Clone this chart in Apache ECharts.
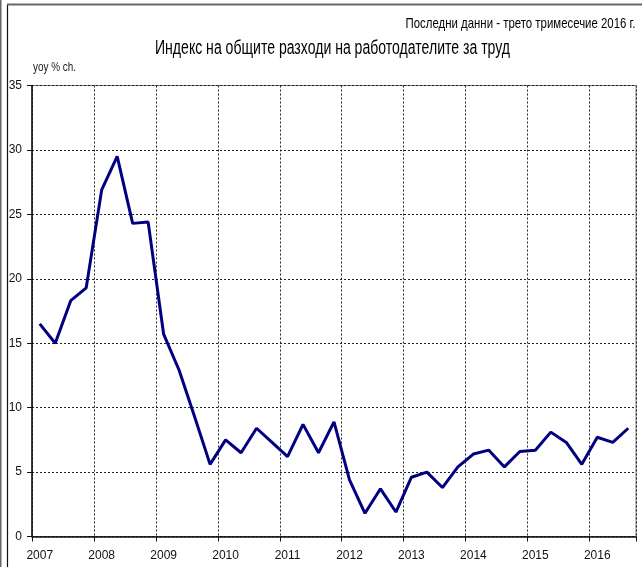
<!DOCTYPE html>
<html>
<head>
<meta charset="utf-8">
<script src="https://cdn.jsdelivr.net/npm/echarts@6/dist/echarts.min.js"></script>
<style>
html,body{margin:0;padding:0;background:#fff;}
#chart{width:642px;height:567px;}
</style>
</head>
<body>
<div id="chart"></div>
<script>
const years = ['2007','2008','2009','2010','2011','2012','2013','2014','2015','2016'];
const quarters = ['Q1','Q2','Q3','Q4'];
const values = [
  16.5, 15.0, 18.3, 19.3,
  26.9, 29.5, 24.3, 24.4,
  15.7, 12.9, 9.3, 5.6,
  7.5, 6.5, 8.4, 7.3,
  6.2, 8.7, 6.5, 8.9,
  4.4, 1.8, 3.7, 1.9,
  4.6, 5.0, 3.8, 5.4,
  6.4, 6.7, 5.4, 6.6,
  6.7, 8.1, 7.3, 5.6,
  7.7, 7.3, 8.4
];
const yTicks = [0, 5, 10, 15, 20, 25, 30, 35];
const titleText = 'Индекс на общите разходи на работодателите за труд';
const noteText = 'Последни данни - трето тримесечие 2016 г.';
const unitText = 'yoy % ch.';

const categories = [];
for (const y of years) for (const q of quarters) {
  if (categories.length < values.length) categories.push(y + ' ' + q);
}

const FONT = "'Liberation Sans', Arial, sans-serif";
const mctx = document.createElement('canvas').getContext('2d');
function narrow(text, size, targetWidth) {
  mctx.font = size + "px 'Liberation Sans', Arial, sans-serif";
  const w = mctx.measureText(text).width;
  return Math.min(1, targetWidth / w);
}

const chart = echarts.init(document.getElementById('chart'), null, {renderer: 'canvas'});
chart.setOption({
  animation: false,
  backgroundColor: '#fff',
  textStyle: {fontFamily: FONT},
  graphic: [
    {type: 'line', shape: {x1: 0.5, y1: 0, x2: 0.5, y2: 567}, style: {stroke: '#666', lineWidth: 2}},
    {type: 'line', shape: {x1: 7.5, y1: 4, x2: 7.5, y2: 567}, style: {stroke: '#111', lineWidth: 1.2}},
    {type: 'line', shape: {x1: 7, y1: 4.5, x2: 642, y2: 4.5}, style: {stroke: '#666', lineWidth: 2}},
    {type: 'text', x: 332.5, y: 49, scaleX: narrow(titleText, 19.5, 355),
      style: {text: titleText, font: "19.5px 'Liberation Sans', Arial, sans-serif", fill: '#000', align: 'center', verticalAlign: 'middle'}},
    {type: 'text', x: 635.5, y: 23.6, scaleX: narrow(noteText, 15, 230),
      style: {text: noteText, font: "15px 'Liberation Sans', Arial, sans-serif", fill: '#000', align: 'right', verticalAlign: 'middle'}},
    {type: 'text', x: 33, y: 67.8, scaleX: narrow(unitText, 12, 43),
      style: {text: unitText, font: "12px 'Liberation Sans', Arial, sans-serif", fill: '#222', align: 'left', verticalAlign: 'middle'}}
  ],
  grid: {left: 32, right: 6, top: 85.5, bottom: 30.5, show: true, borderColor: '#777', borderWidth: 1, containLabel: false},
  xAxis: {
    type: 'category',
    data: categories,
    boundaryGap: true,
    axisLine: {lineStyle: {color: '#111', width: 1.5}},
    axisTick: {show: true, interval: 3, length: 5, lineStyle: {color: '#111'}},
    axisLabel: {interval: 3, margin: 13, fontSize: 12, color: '#111', fontFamily: FONT,
      formatter: v => v.split(' ')[0]},
    splitLine: {show: true, interval: 3, lineStyle: {color: '#222', type: [2, 2], width: 1}}
  },
  yAxis: {
    type: 'value',
    min: yTicks[0], max: yTicks[yTicks.length - 1], interval: 5,
    axisLine: {show: true, lineStyle: {color: '#111', width: 1.5}},
    axisTick: {show: true, length: 5, lineStyle: {color: '#111'}},
    axisLabel: {margin: 10, fontSize: 12, color: '#111', fontFamily: FONT},
    splitLine: {show: true, lineStyle: {color: '#222', type: [2, 2], width: 1}}
  },
  series: [{
    type: 'line',
    data: values,
    symbol: 'none',
    lineStyle: {color: '#000080', width: 3},
    itemStyle: {color: '#000080'}
  }]
});
</script>
</body>
</html>
